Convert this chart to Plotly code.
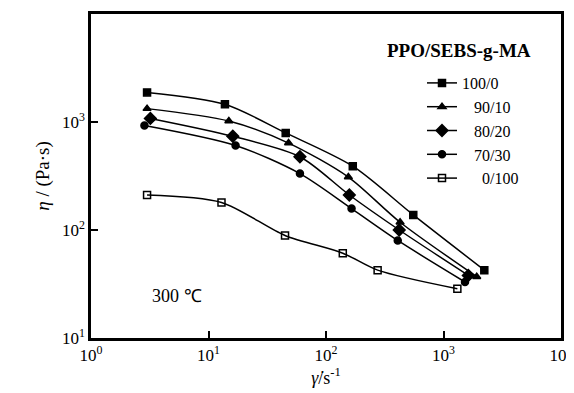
import plotly.graph_objects as go

series_names = ["100/0", "90/10", "80/20", "70/30", "0/100"]
legend_labels = ["100/0", "\u2007 90/10", "\u2007 80/20", "\u2007 70/30", "\u2007\u2007 0/100"]
symbols = ["square", "triangle-up", "diamond", "circle", "square-open"]

shear_100_0 = [3.0, 13.8, 45.4, 169, 553, 2225]
visc_100_0 = [1880, 1460, 793, 390, 138, 42.5]

shear_90_10 = [3.0, 14.9, 48, 155, 427, 1918]
visc_90_10 = [1330, 1020, 638, 309, 118, 37]

shear_80_20 = [3.2, 16.1, 60, 158, 420, 1626]
visc_80_20 = [1080, 738, 477, 211, 100, 38]

shear_70_30 = [2.85, 17.0, 60, 165, 408, 1524]
visc_70_30 = [930, 607, 333, 158, 80, 33]

shear_0_100 = [3.0, 12.9, 44.8, 139, 275, 1312]
visc_0_100 = [211, 180, 89, 61, 42.5, 28.6]

tick_vals = [1, 10, 100, 1000, 10000]
tick_text = ["10<sup>0</sup>", "10<sup>1</sup>", "10<sup>2</sup>", "10<sup>3</sup>", "10<sup>4</sup>"]
minor_vals = [m * 10 ** e for e in range(0, 4) for m in range(2, 10)]

xs = [shear_100_0, shear_90_10, shear_80_20, shear_70_30, shear_0_100]
ys = [visc_100_0, visc_90_10, visc_80_20, visc_70_30, visc_0_100]

font_family = "Liberation Serif"

fig = go.Figure()
for name, lab, sym, x, y in zip(series_names, legend_labels, symbols, xs, ys):
    fig.add_trace(go.Scatter(
        x=x, y=y, name=lab, mode="lines+markers",
        line=dict(color="black", width=1.5, shape="spline", smoothing=0.8),
        marker=dict(symbol=sym, size=7 if sym != "diamond" else 9, color="black",
                    line=dict(color="black", width=1.5)),
    ))

axis_common = dict(
    type="log", showline=True, linecolor="black", linewidth=2.5, mirror=True,
    ticks="inside", ticklen=7, tickwidth=1.5, tickcolor="black",
    tickmode="array", tickvals=tick_vals, ticktext=tick_text,
    showgrid=False, zeroline=False, automargin=False,
    tickfont=dict(family=font_family, size=17, color="black"),
)
minor_common = dict(
    type="log", showline=False, ticks="inside", ticklen=4, tickwidth=1.2, tickcolor="black",
    tickmode="array", tickvals=minor_vals, showticklabels=False,
    showgrid=False, zeroline=False, automargin=False,
)

fig.update_layout(
    xaxis=dict(range=[0, 4], title=dict(text="<i>γ̇</i>/s<sup>-1</sup>",
               font=dict(family=font_family, size=18, color="black"), standoff=0),
               **axis_common),
    yaxis=dict(range=[1, 4], title=dict(text="<i>η</i> / (Pa·s)",
               font=dict(family=font_family, size=19, color="black"), standoff=8),
               **axis_common),
    xaxis2=dict(range=[0, 4], overlaying="x", side="bottom", anchor="y", **minor_common),
    yaxis2=dict(range=[1, 4], overlaying="y", side="left", anchor="x", **minor_common),
)

# page body has an 8px margin: plot area wanted at x 91..561, y 14..338 in the page
OFF = 8
fig.add_annotation(x=0.73, y=1.39, xref="x", yref="y", text="300 ℃", showarrow=False,
                   font=dict(family=font_family, size=18, color="black"))
fig.add_annotation(x=(459 - 91) / 470, y=(338 - 50) / 324, xref="paper", yref="paper",
                   xanchor="center", yanchor="middle", text="<b>PPO/SEBS-g-MA</b>",
                   showarrow=False, font=dict(family=font_family, size=19, color="black"))

fig.update_layout(
    template="none",
    width=574 - OFF, height=393 - OFF,
    margin=dict(l=91 - OFF, r=13, t=14 - OFF, b=385 - (338 - OFF)),
    plot_bgcolor="white", paper_bgcolor="white",
    showlegend=True,
    legend=dict(x=(422 - 91) / 470, y=(338 - 66) / 324, xanchor="left", yanchor="top",
                bgcolor="rgba(0,0,0,0)", tracegroupgap=0, itemwidth=30,
                font=dict(family=font_family, size=16, color="black")),
)

fig.write_html("out.html")
